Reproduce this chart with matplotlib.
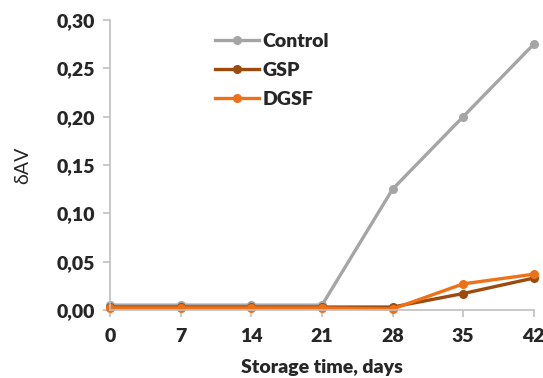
import matplotlib
matplotlib.use('Agg')
import matplotlib.pyplot as plt
from matplotlib.ticker import FuncFormatter

plt.rcParams['font.family'] = ['Lato', 'DejaVu Sans']

days = [0, 7, 14, 21, 28, 35, 42]
control = [0.005, 0.005, 0.005, 0.005, 0.125, 0.200, 0.275]
gsp = [0.003, 0.003, 0.003, 0.003, 0.003, 0.017, 0.033]
dgsf = [0.002, 0.002, 0.002, 0.002, 0.001, 0.027, 0.037]

fig = plt.figure(figsize=(5.43, 3.78), dpi=100)
ax = fig.add_axes([0.203, 0.18, 0.78, 0.767])

ax.plot(days, control, '-o', color='#A5A5A5', lw=2.4, ms=5.5, label='Control', clip_on=False)
ax.plot(days, gsp, '-o', color='#9C4A0E', lw=2.4, ms=5.5, label='GSP', clip_on=False)
ax.plot(days, dgsf, '-o', color='#EE7118', lw=2.4, ms=5.5, label='DGSF', clip_on=False)

ax.set_xlim(0, 42)
ax.set_ylim(0, 0.30)
ax.set_xticks(days)
ax.set_yticks([0, 0.05, 0.10, 0.15, 0.20, 0.25, 0.30])
ax.yaxis.set_major_formatter(FuncFormatter(lambda v, p: ('%.2f' % v).replace('.', ',')))

for s in ['top', 'right']:
    ax.spines[s].set_visible(False)
for s in ['left', 'bottom']:
    ax.spines[s].set_color('#BFBFBF')
    ax.spines[s].set_linewidth(1.2)
ax.tick_params(axis='both', colors='#BFBFBF', length=5, width=1.2, labelcolor='#262626', labelsize=14)
ax.tick_params(axis='x', pad=8)
ax.tick_params(axis='y', pad=6)
for t in ax.get_xticklabels() + ax.get_yticklabels():
    t.set_fontweight('heavy')

ax.set_xlabel('Storage time, days', fontsize=14, fontweight='heavy', color='#262626', labelpad=10)
ax.set_ylabel('δAV', fontsize=14, color='#262626', labelpad=18)

leg = ax.legend(loc='upper left', bbox_to_anchor=(0.205, 1.015), frameon=False,
                handlelength=2.3, handletextpad=0.15, labelspacing=0.6,
                prop={'weight': 'heavy', 'size': 14})
for t in leg.get_texts():
    t.set_color('#262626')

fig.savefig('out.png', dpi=100)
